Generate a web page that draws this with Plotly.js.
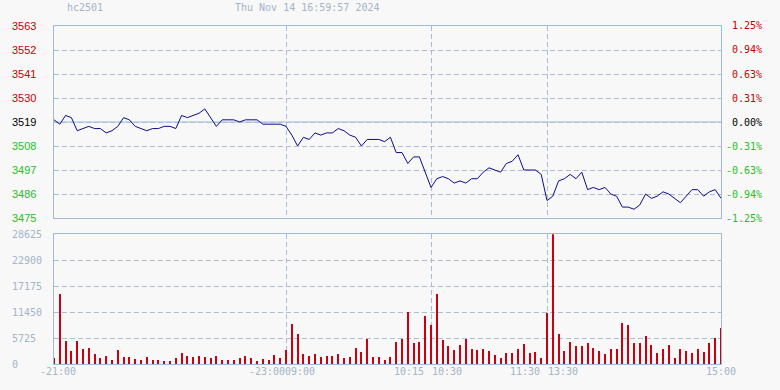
<!DOCTYPE html>
<html>
<head>
<meta charset="utf-8">
<script src="https://cdn.plot.ly/plotly-3.0.1.min.js"></script>
<style>html,body{margin:0;padding:0;background:#f8f8f8;}#chart{width:780px;height:390px;}</style>
</head>
<body>
<div id="chart"></div>
<script>
// ---- data ----
const symbol = 'hc2501';
const stamp = 'Thu Nov 14 16:59:57 2024';
const prevClose = 3519;

const prices = [
  3520,3518,3522,3521,3515,3516,3517,3516,3516,3514,
  3515,3517,3521,3520,3517,3516,3515,3516,3516,3517,
  3517,3516,3522,3521,3522,3523,3525,3521,3517,3520,
  3520,3520,3519,3520,3520,3520,3518,3518,3518,3518,
  3517,3513,3508,3512,3511,3514,3513,3514,3514,3516,
  3515,3513,3512,3508,3511,3511,3511,3510,3512,3505,
  3505,3500,3503,3503,3496,3489,3493,3494,3493,3491,
  3492,3491,3493,3493,3496,3498,3497,3496,3500,3501,
  3504,3497,3497,3497,3495,3483,3485,3492,3493,3495,
  3493,3496,3488,3489,3488,3489,3486,3485,3480,3480,
  3479,3481,3486,3484,3485,3487,3486,3484,3482,3485,
  3488,3488,3485,3487,3488,3484
];

const volumes = [
  1320,15450,5150,2950,5150,3400,3600,2280,1420,1850,
  950,3150,1650,1650,1200,950,1650,950,950,730,
  730,1400,2500,1850,1650,1800,1600,1420,1850,950,
  950,950,1400,1850,1400,730,1170,950,2060,1400,
  3160,8880,6680,2280,1840,2280,1610,1840,1840,2280,
  1400,1610,3600,2720,5600,1610,1610,950,1650,4900,
  5600,11500,4700,4900,10620,8650,15470,5350,4040,3160,
  4250,5600,3380,3160,3380,2940,2060,1400,2500,2500,
  3380,4480,2500,2720,1400,11200,28625,6670,2940,4910,
  4040,4040,4700,3600,2940,2280,3380,3380,9090,8650,
  4700,4700,6230,4250,2500,3380,4260,1400,3380,2940,
  2500,3380,2720,4700,5790,7990
];

const priceTicks = [3475,3486,3497,3508,3519,3530,3541,3552,3563];
const pctLabels = ['-1.25%','-0.94%','-0.63%','-0.31%','0.00%','0.31%','0.63%','0.94%','1.25%'];
const volTicks = [0,5725,11450,17175,22900,28625];
const volLabels = ['0','5725','11450','17175','22900','28625'];
// session boundaries as bar indices (3-minute bars)
const sessionBreaks = [40,65,85];
const lastIndex = 115;
const timeLeft = '-21:00';
const breakLabels = [['-23:00','09:00'],['10:15','10:30'],['11:30','13:30']];
const timeRight = '15:00';

// ---- drawing ----
const idx = prices.map((_, i) => i);
const W = 780, H = 390;
const gridC = '#aabdd6', lineC = '#a3bad6', txtC = '#a3b4ca';
const mono = 'DejaVu Sans Mono, monospace';
const sans = 'Liberation Sans, Arial, sans-serif';
const upC = '#c80000', dnC = '#22c322';

const traces = [
  {x: idx, y: prices, type: 'scatter', mode: 'lines', xaxis: 'x', yaxis: 'y',
   line: {color: '#0c0c8a', width: 1}, hoverinfo: 'skip'},
  {x: idx, y: volumes, type: 'bar', xaxis: 'x2', yaxis: 'y2',
   marker: {color: '#c80010', line: {width: 0}}, width: 0.34, hoverinfo: 'skip'}
];

const xdom = [54 / W, 721 / W];
const xcommon = {
  domain: xdom, range: [0, lastIndex], tickvals: sessionBreaks, showticklabels: false,
  ticks: '', showgrid: true, gridcolor: gridC, griddash: '5px,3px', gridwidth: 1,
  showline: true, mirror: true, linecolor: lineC, linewidth: 1, zeroline: false, fixedrange: true
};
const ycommon = {
  showticklabels: false, ticks: '', showgrid: true, gridcolor: gridC, griddash: '5px,3px',
  gridwidth: 1, showline: true, mirror: true, linecolor: lineC, linewidth: 1, zeroline: false, fixedrange: true
};

const annotations = [];
// header
annotations.push({text: symbol, xref: 'paper', yref: 'paper', x: 65 / W, y: 1 - 7 / H,
  xanchor: 'left', yanchor: 'middle', showarrow: false, font: {family: mono, size: 10, color: txtC}});
annotations.push({text: stamp, xref: 'paper', yref: 'paper', x: 233 / W, y: 1 - 7 / H,
  xanchor: 'left', yanchor: 'middle', showarrow: false, font: {family: mono, size: 10, color: txtC}});
// price + percent labels
priceTicks.forEach((p, i) => {
  const c = p > prevClose ? upC : (p < prevClose ? dnC : '#000000');
  annotations.push({text: String(p), xref: 'paper', yref: 'y', x: 10 / W, y: p,
    xanchor: 'left', yanchor: 'middle', showarrow: false, font: {family: sans, size: 11, color: c}});
  annotations.push({text: pctLabels[i], xref: 'paper', yref: 'y', x: 764 / W, y: p,
    xanchor: 'right', yanchor: 'middle', showarrow: false, font: {family: mono, size: 10, color: c}});
});
// volume labels
volTicks.forEach((v, i) => {
  annotations.push({text: volLabels[i], xref: 'paper', yref: 'y2', x: 10 / W, y: v,
    xanchor: 'left', yanchor: 'middle', showarrow: false, font: {family: mono, size: 10, color: txtC}});
});
// time labels
const ty = 1 - 371 / H;
const tfont = {family: mono, size: 10, color: txtC};
annotations.push({text: timeLeft, xref: 'x2', yref: 'paper', x: 0, y: ty, xanchor: 'left',
  yanchor: 'middle', xshift: -16, showarrow: false, font: tfont});
sessionBreaks.forEach((b, i) => {
  const gapR = i === 0 ? 1 : -5;
  const gapL = i === 0 ? -3 : -1;
  annotations.push({text: breakLabels[i][0], xref: 'x2', yref: 'paper', x: b, y: ty, xanchor: 'right',
    yanchor: 'middle', xshift: gapR, showarrow: false, font: tfont});
  annotations.push({text: breakLabels[i][1], xref: 'x2', yref: 'paper', x: b, y: ty, xanchor: 'left',
    yanchor: 'middle', xshift: gapL, showarrow: false, font: tfont});
});
annotations.push({text: timeRight, xref: 'x2', yref: 'paper', x: lastIndex, y: ty, xanchor: 'center',
  yanchor: 'middle', showarrow: false, font: tfont});

const layout = {
  width: W, height: H, margin: {l: 0, r: 0, t: 0, b: 0},
  paper_bgcolor: '#f8f8f8', plot_bgcolor: '#f8f8f8', showlegend: false,
  bargap: 0,
  xaxis: Object.assign({}, xcommon, {anchor: 'y'}),
  xaxis2: Object.assign({}, xcommon, {anchor: 'y2'}),
  yaxis: Object.assign({}, ycommon, {domain: [1 - 218 / H, 1 - 26 / H], range: [priceTicks[0], priceTicks[priceTicks.length - 1]], tickvals: priceTicks, anchor: 'x'}),
  yaxis2: Object.assign({}, ycommon, {domain: [1 - 364.3 / H, 1 - 234.3 / H], range: [volTicks[0], volTicks[volTicks.length - 1]], tickvals: volTicks, anchor: 'x2'}),
  shapes: [{type: 'line', xref: 'x domain', yref: 'y', x0: 0, x1: 1, y0: prevClose, y1: prevClose,
    line: {color: lineC, width: 1}, layer: 'below'}],
  annotations: annotations
};

Plotly.newPlot('chart', traces, layout, {displayModeBar: false, staticPlot: true});
</script>
</body>
</html>
